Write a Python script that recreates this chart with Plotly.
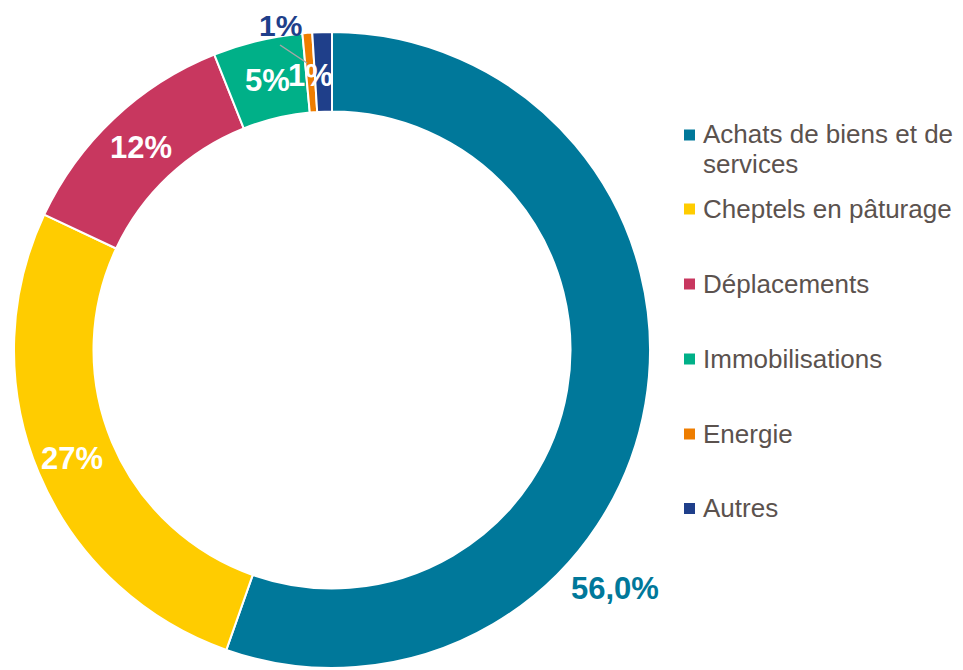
import math
import plotly.graph_objects as go

# Data
categories = ["Achats de biens et de services", "Cheptels en pâturage", "Déplacements",
              "Immobilisations", "Energie", "Autres"]
legend_lines = [["Achats de biens et de", "services"], ["Cheptels en pâturage"], ["Déplacements"],
                ["Immobilisations"], ["Energie"], ["Autres"]]
values = [56.0, 26.9, 12.1, 4.6, 0.5, 1.0]
value_labels = ["56,0%", "27%", "12%", "5%", "1%", "1%"]
colors = ["#00789a", "#ffcc00", "#c8375f", "#00b088", "#ee7d00", "#1f3f8a"]

OFF = 8                      # page body margin shifts the plot by 8px
W, H = 963 - OFF, 670 - OFF
CX, CY, R = 332, 350, 318    # pie centre / radius in page pixels
TEXT_COLOR = "#5b524e"
FONT = "Liberation Sans, Arial, sans-serif"


def px(x, y):
    # page pixel -> paper coords
    return (x - OFF) / W, 1 - (y - OFF) / H


def label(x, y, text, size, color, xanchor="center", yanchor="middle"):
    px_x, px_y = px(x, y)
    fig.add_annotation(x=px_x, y=px_y, xref="paper", yref="paper", text=text,
                       showarrow=False, xanchor=xanchor, yanchor=yanchor, align="left",
                       borderpad=0, font=dict(family=FONT, size=size, color=color))


fig = go.Figure()

dx0, dy0 = px(CX - R, CY + R)
dx1, dy1 = px(CX + R, CY - R)
fig.add_trace(go.Pie(
    labels=categories,
    values=values,
    sort=False,
    direction="clockwise",
    rotation=0,
    hole=0.75,
    marker=dict(colors=colors, line=dict(color="white", width=2)),
    textinfo="none",
    hoverinfo="label+percent",
    showlegend=False,
    domain=dict(x=[dx0, dx1], y=[dy0, dy1]),
))

# Slice labels on the mid angle of each slice
total = sum(values)
cum = 0
mids = []
for v in values:
    mids.append((cum + v / 2) / total * 2 * math.pi)
    cum += v

inside = {1: 282, 2: 278, 3: 277, 4: 275}
for i, r_lab in inside.items():
    a = mids[i]
    label(CX + r_lab * math.sin(a), CY - r_lab * math.cos(a),
          "<b>" + value_labels[i] + "</b>", 31, "white")

# Outside labels
label(615, 588, "<b>" + value_labels[0] + "</b>", 31, colors[0])
label(280, 8, "<b>" + value_labels[5] + "</b>", 30, colors[5], yanchor="top")
x0, y0 = px(280, 45)
x1, y1 = px(307, 63)
fig.add_shape(type="line", xref="paper", yref="paper", x0=x0, y0=y0, x1=x1, y1=y1,
              line=dict(color="#a6a6a6", width=1.5))

# Manual legend
legend_y = [135, 209, 284, 359, 434, 508.5]
for lines, col, ly in zip(legend_lines, colors, legend_y):
    x0, y0 = px(684, ly - 5.5)
    x1, y1 = px(695, ly + 5.5)
    fig.add_shape(type="rect", xref="paper", yref="paper", x0=x0, y0=y0, x1=x1, y1=y1,
                  fillcolor=col, line=dict(width=0))
    first = ly - 1.5 if len(lines) > 1 else ly
    for k, line in enumerate(lines):
        label(702, first + 30 * k, line, 26, TEXT_COLOR, xanchor="left")

fig.update_layout(
    width=W, height=H,
    margin=dict(l=0, r=0, t=0, b=0),
    paper_bgcolor="white",
    plot_bgcolor="white",
)

fig.write_html("out.html")
